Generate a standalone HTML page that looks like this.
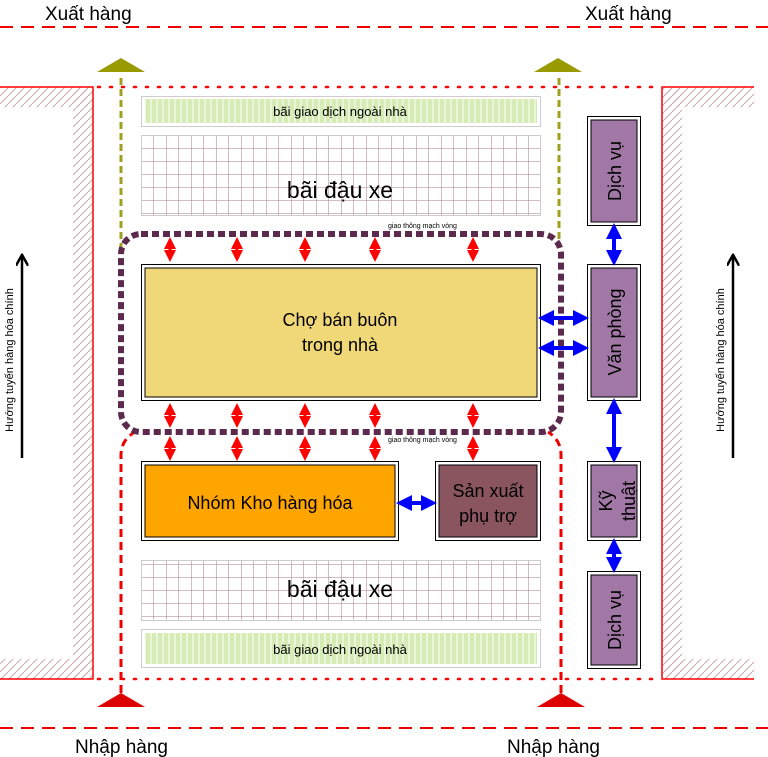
<!DOCTYPE html>
<html><head><meta charset="utf-8"><style>
html,body{margin:0;padding:0;background:#fff}
svg{display:block}
text{font-family:"Liberation Sans",sans-serif}
</style></head><body>
<svg width="768" height="757" viewBox="0 0 768 757" xmlns="http://www.w3.org/2000/svg">
<defs>
<pattern id="hatch" width="8" height="8" patternUnits="userSpaceOnUse">
<path d="M0,8 L8,0" stroke="#c9a9b0" stroke-width="1"/>
</pattern>
<pattern id="grid" width="12.5" height="13" patternUnits="userSpaceOnUse" x="141" y="135">
<rect width="12.5" height="13" fill="#fff"/>
<path d="M0,0 V13 M0,0 H12.5" stroke="#a87888" stroke-width="1" fill="none"/>
</pattern>
<pattern id="stripe" width="6" height="10" patternUnits="userSpaceOnUse">
<rect width="6" height="10" fill="#d6ebb5"/>
<rect width="2" height="10" fill="#eaf6d8"/>
</pattern>
<marker id="ra" viewBox="0 0 10 10" refX="5" refY="5" markerWidth="4" markerHeight="4" orient="auto-start-reverse"><path d="M0,0 L10,5 L0,10 Z" fill="#f00"/></marker>
<marker id="ba" viewBox="0 0 10 10" refX="5" refY="5" markerWidth="4" markerHeight="4" orient="auto-start-reverse"><path d="M0,0 L10,5 L0,10 Z" fill="#00f"/></marker>
<marker id="ka" viewBox="0 0 10 10" refX="8" refY="5" markerWidth="5" markerHeight="5" orient="auto"><path d="M0,0 L9,5 L0,10" fill="none" stroke="#000" stroke-width="2"/></marker>
</defs>

<line x1="0" y1="27" x2="768" y2="27" stroke="#e00" stroke-width="2" stroke-dasharray="13,8"/>
<line x1="0" y1="728" x2="768" y2="728" stroke="#e00" stroke-width="2" stroke-dasharray="13,8"/>
<text x="45" y="20" font-size="19">Xuất hàng</text>
<text x="585" y="20" font-size="19">Xuất hàng</text>
<text x="75" y="753" font-size="19">Nhập hàng</text>
<text x="507" y="753" font-size="19">Nhập hàng</text>

<rect x="0" y="87" width="93" height="20" fill="url(#hatch)"/>
<rect x="73" y="87" width="20" height="592" fill="url(#hatch)"/>
<rect x="0" y="659" width="93" height="20" fill="url(#hatch)"/>
<path d="M0,87 H93 V679 H0" fill="none" stroke="#f00" stroke-width="1.5"/>
<rect x="662" y="87" width="92" height="20" fill="url(#hatch)"/>
<rect x="662" y="87" width="20" height="592" fill="url(#hatch)"/>
<rect x="662" y="659" width="92" height="20" fill="url(#hatch)"/>
<path d="M754,87 H662 V679 H754" fill="none" stroke="#f00" stroke-width="1.5"/>

<line x1="98" y1="87" x2="662" y2="87" stroke="#f00" stroke-width="2.5" stroke-dasharray="2,10" stroke-linecap="round"/>
<line x1="98" y1="679" x2="662" y2="679" stroke="#f00" stroke-width="2.5" stroke-dasharray="2,10" stroke-linecap="round"/>

<polygon points="97,72 121,58 145,72" fill="#999900"/>
<polygon points="534,72 558,58 582,72" fill="#999900"/>
<polygon points="97,707 121,693 145,707" fill="#dd0000"/>
<polygon points="537,707 561,693 585,707" fill="#dd0000"/>

<line x1="121" y1="78" x2="121" y2="248" stroke="#a0a020" stroke-width="3" stroke-dasharray="7,4"/>
<line x1="559" y1="78" x2="559" y2="248" stroke="#a0a020" stroke-width="3" stroke-dasharray="7,4"/>

<path d="M121,693 V455 Q121,440 135,432" fill="none" stroke="#e00" stroke-width="3" stroke-dasharray="8,5"/>
<path d="M561,693 V455 Q561,440 548,432" fill="none" stroke="#e00" stroke-width="3" stroke-dasharray="8,5"/>

<rect x="141.5" y="96.5" width="399" height="30" fill="#fff" stroke="#ccc"/>
<rect x="145" y="99" width="392" height="24" fill="url(#stripe)"/>
<text x="340" y="116" font-size="13" text-anchor="middle">bãi giao dịch ngoài nhà</text>
<rect x="141.5" y="629.5" width="399" height="38" fill="#fff" stroke="#ccc"/>
<rect x="145" y="633" width="392" height="31" fill="url(#stripe)"/>
<text x="340" y="654" font-size="13" text-anchor="middle">bãi giao dịch ngoài nhà</text>

<rect x="141.5" y="135.5" width="399" height="80" fill="url(#grid)" stroke="#ccc"/>
<text x="340" y="198" font-size="23" text-anchor="middle">bãi đậu xe</text>
<rect x="141.5" y="560.5" width="399" height="60" fill="url(#grid)" stroke="#ccc"/>
<text x="340" y="597" font-size="23" text-anchor="middle">bãi đậu xe</text>

<rect x="121" y="234" width="440" height="198" rx="20" fill="none" stroke="#5c2a4c" stroke-width="6" stroke-dasharray="7,4"/>
<text x="388" y="228" font-size="7">giao thông mạch vòng</text>
<text x="388" y="442" font-size="7">giao thông mạch vòng</text>

<rect x="141.5" y="264.5" width="399" height="136" fill="#fff" stroke="#000"/>
<rect x="145" y="268" width="392" height="129" fill="#f0d878" stroke="#000"/>
<text x="340" y="326" font-size="18" text-anchor="middle">Chợ bán buôn</text>
<text x="340" y="351" font-size="18" text-anchor="middle">trong nhà</text>

<rect x="141.5" y="461.5" width="257" height="79" fill="#fff" stroke="#000"/>
<rect x="145" y="465" width="250" height="72" fill="#ffa500" stroke="#000"/>
<text x="270" y="509" font-size="18" text-anchor="middle">Nhóm Kho hàng hóa</text>
<rect x="435.5" y="461.5" width="105" height="79" fill="#fff" stroke="#000"/>
<rect x="439" y="465" width="98" height="72" fill="#8b5560" stroke="#000"/>
<text x="488" y="497" font-size="18" text-anchor="middle">Sản xuất</text>
<text x="488" y="522" font-size="18" text-anchor="middle">phụ trợ</text>

<g stroke="#f00" stroke-width="3" marker-start="url(#ra)" marker-end="url(#ra)">
<line x1="170" y1="243" x2="170" y2="256"/><line x1="237" y1="243" x2="237" y2="256"/><line x1="305" y1="243" x2="305" y2="256"/><line x1="375" y1="243" x2="375" y2="256"/><line x1="473" y1="243" x2="473" y2="256"/>
<line x1="170" y1="409" x2="170" y2="422"/><line x1="237" y1="409" x2="237" y2="422"/><line x1="305" y1="409" x2="305" y2="422"/><line x1="375" y1="409" x2="375" y2="422"/><line x1="473" y1="409" x2="473" y2="422"/>
<line x1="170" y1="442" x2="170" y2="455"/><line x1="237" y1="442" x2="237" y2="455"/><line x1="305" y1="442" x2="305" y2="455"/><line x1="375" y1="442" x2="375" y2="455"/><line x1="473" y1="442" x2="473" y2="455"/>
</g>

<g>
<rect x="587.5" y="116.5" width="53" height="109" fill="#fff" stroke="#000"/>
<rect x="591" y="120" width="46" height="102" fill="#a077a5" stroke="#000"/>
<rect x="587.5" y="264.5" width="53" height="136" fill="#fff" stroke="#000"/>
<rect x="591" y="268" width="46" height="129" fill="#a077a5" stroke="#000"/>
<rect x="587.5" y="461.5" width="53" height="79" fill="#fff" stroke="#000"/>
<rect x="591" y="465" width="46" height="72" fill="#a077a5" stroke="#000"/>
<rect x="587.5" y="571.5" width="53" height="97" fill="#fff" stroke="#000"/>
<rect x="591" y="575" width="46" height="90" fill="#a077a5" stroke="#000"/>
</g>
<text transform="translate(621,171) rotate(-90)" font-size="18" text-anchor="middle">Dịch vụ</text>
<text transform="translate(621,332) rotate(-90)" font-size="18" text-anchor="middle">Văn phòng</text>
<text transform="translate(612,501) rotate(-90)" font-size="18" text-anchor="middle">Kỹ</text>
<text transform="translate(635,501) rotate(-90)" font-size="18" text-anchor="middle">thuật</text>
<text transform="translate(621,620) rotate(-90)" font-size="18" text-anchor="middle">Dịch vụ</text>

<g stroke="#00f" stroke-width="4" marker-start="url(#ba)" marker-end="url(#ba)">
<line x1="614" y1="231" x2="614" y2="258"/>
<line x1="614" y1="406" x2="614" y2="455"/>
<line x1="614" y1="546" x2="614" y2="565"/>
<line x1="546" y1="318" x2="581" y2="318"/>
<line x1="546" y1="348" x2="581" y2="348"/>
<line x1="404" y1="503" x2="429" y2="503"/>
</g>

<line x1="22" y1="458" x2="22" y2="256" stroke="#000" stroke-width="2.5" marker-end="url(#ka)"/>
<text transform="translate(13,360) rotate(-90)" font-size="11" text-anchor="middle">Hướng tuyến hàng hóa chính</text>
<line x1="733" y1="458" x2="733" y2="256" stroke="#000" stroke-width="2.5" marker-end="url(#ka)"/>
<text transform="translate(724,360) rotate(-90)" font-size="11" text-anchor="middle">Hướng tuyến hàng hóa chính</text>
</svg>
</body></html>
